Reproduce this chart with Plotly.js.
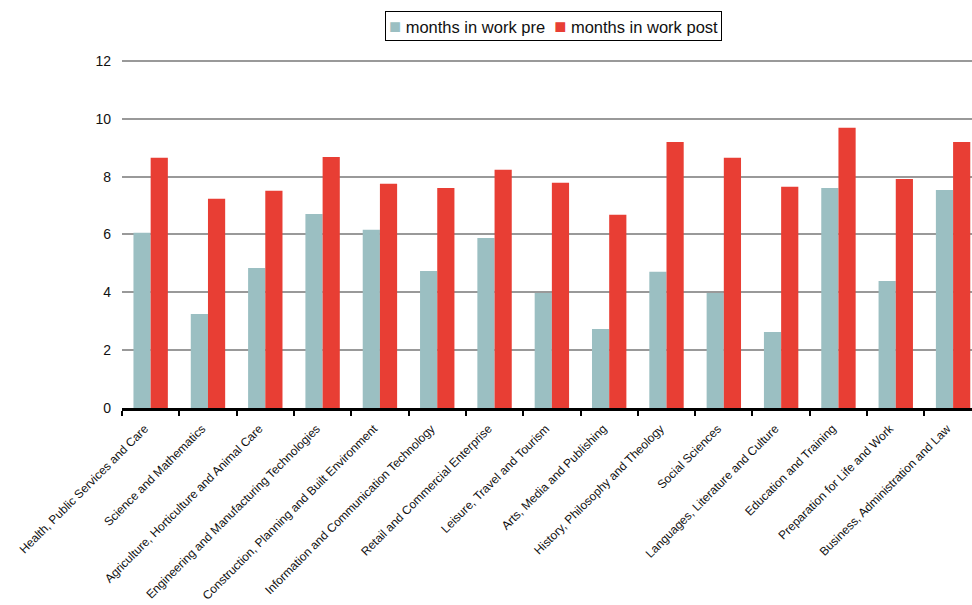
<!DOCTYPE html>
<html>
<head>
<meta charset="utf-8">
<script src="https://cdn.plot.ly/plotly-3.0.1.min.js"></script>
<style>html,body{margin:0;padding:0;background:#fff}#chart{width:972px;height:605px}</style>
</head>
<body>
<div id="chart"></div>
<script>
const categories = [
  "Health, Public Services and Care",
  "Science and Mathematics",
  "Agriculture, Horticulture and Animal Care",
  "Engineering and Manufacturing Technologies",
  "Construction, Planning and Built Environment",
  "Information and Communication Technology",
  "Retail and Commercial Enterprise",
  "Leisure, Travel and Tourism",
  "Arts, Media and Publishing",
  "History, Philosophy and Theology",
  "Social Sciences",
  "Languages, Literature and Culture",
  "Education and Training",
  "Preparation for Life and Work",
  "Business, Administration and Law"
];
const monthsPre  = [6.06, 3.25, 4.84, 6.71, 6.16, 4.74, 5.88, 3.98, 2.73, 4.71, 3.98, 2.63, 7.61, 4.39, 7.54];
const monthsPost = [8.65, 7.23, 7.51, 8.68, 7.75, 7.61, 8.24, 7.79, 6.68, 9.20, 8.65, 7.65, 9.69, 7.92, 9.20];
const seriesNames = ["months in work pre", "months in work post"];
const seriesColors = ["#9bbfc2", "#e83e34"];
const yTicks = [0, 2, 4, 6, 8, 10, 12];

const traces = [
  {type: "bar", name: seriesNames[0], x: categories, y: monthsPre, marker: {color: seriesColors[0]}, showlegend: false},
  {type: "bar", name: seriesNames[1], x: categories, y: monthsPost, marker: {color: seriesColors[1]}, showlegend: false}
];

const sq = c => '<span style="color:' + c + ';font-size:20px">\u25A0</span>';
const legendText = sq(seriesColors[0]) + '\u00A0' + seriesNames[0] + '\u00A0\u00A0' + sq(seriesColors[1]) + '\u00A0' + seriesNames[1];

const layout = {
  width: 972, height: 605,
  margin: {l: 122, r: 0, t: 58, b: 197, pad: 0},
  paper_bgcolor: "#fff", plot_bgcolor: "#fff",
  font: {family: "Liberation Sans, Arial, sans-serif", color: "#000", size: 13},
  barmode: "group", bargap: 0.4, bargroupgap: 0,
  showlegend: false,
  annotations: [{
    xref: "paper", yref: "paper",
    x: 0.5076, y: 1.0914, xanchor: "center", yanchor: "middle",
    showarrow: false, text: legendText,
    font: {size: 16.5, color: "#111"},
    bordercolor: "#000", borderwidth: 1, borderpad: 3, bgcolor: "#fff"
  }],
  xaxis: {
    type: "category",
    range: [-0.5, 14.33],
    tickangle: -45,
    tickfont: {size: 12, color: "#111"},
    ticklabelstandoff: 6,
    ticklabelshift: -6,
    ticks: "outside", ticklen: 5, tickwidth: 2, tickcolor: "#000",
    tickson: "boundaries",
    showline: true, linecolor: "#000", linewidth: 3,
    showgrid: false, zeroline: false, automargin: false
  },
  yaxis: {
    range: [0, 12.1],
    tickvals: yTicks,
    ticktext: yTicks.map(String),
    showgrid: true, gridcolor: "#999", gridwidth: 2,
    zeroline: false, showline: false, ticks: "",
    ticklabelstandoff: 10,
    tickfont: {size: 14, color: "#111"},
    automargin: false
  }
};

Plotly.newPlot("chart", traces, layout, {displayModeBar: false, staticPlot: true});
</script>
</body>
</html>
